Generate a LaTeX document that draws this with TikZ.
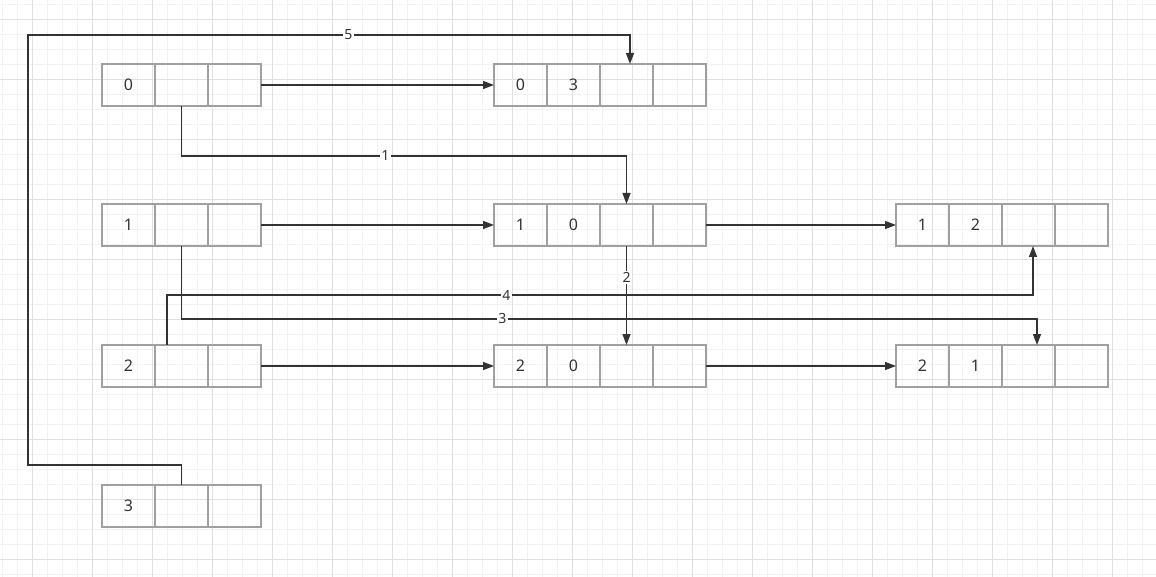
\documentclass[tikz,border=0pt]{standalone}
\usepackage{fontspec}
\setmainfont{Noto Sans}
\usetikzlibrary{positioning, arrows.meta}
\definecolor{cellgray}{HTML}{A0A0A0}
\definecolor{linegray}{HTML}{333333}
\definecolor{gridminor}{HTML}{F2F2F2}
\definecolor{gridmajor}{HTML}{E0E0E0}

\begin{document}
\begin{tikzpicture}[x=1pt, y=-1pt, ->, >={Triangle[length=11pt,width=8pt]}, color=linegray, line width=1.3pt, node distance=0pt]
\tikzstyle{cell}=[draw=cellgray, rectangle, minimum width=53pt, minimum height=42pt, inner sep=0pt, outer sep=0pt, font=\fontsize{16}{18}\selectfont, text=linegray]
\tikzstyle{lbl}=[fill=white, inner sep=1.5pt, font=\fontsize{14}{16}\selectfont, text=linegray]

\useasboundingbox (0,0) rectangle (1156,577);
\fill[white] (0,0) rectangle (1156,577);
\foreach \x in {2.3,17.3,...,1156} \draw[-, gridminor, line width=0.7pt] (\x,0) -- (\x,577);
\foreach \y in {4.3,19.3,...,577} \draw[-, gridminor, line width=0.7pt] (0,\y) -- (1156,\y);
\foreach \x in {32.3,92.3,...,1156} \draw[-, gridmajor, line width=0.7pt] (\x,0) -- (\x,577);
\foreach \y in {19.3,79.3,...,577} \draw[-, gridmajor, line width=0.7pt] (0,\y) -- (1156,\y);

% left column
\node[cell] (L0a) at (128.5,85) {0};
\node[cell] (L0b)[right=of L0a] {};
\node[cell] (L0c)[right=of L0b] {};
\node[cell] (L1a) at (128.5,225) {1};
\node[cell] (L1b)[right=of L1a] {};
\node[cell] (L1c)[right=of L1b] {};
\node[cell] (L2a) at (128.5,366) {2};
\node[cell] (L2b)[right=of L2a] {};
\node[cell] (L2c)[right=of L2b] {};
\node[cell] (L3a) at (128.5,506) {3};
\node[cell] (L3b)[right=of L3a] {};
\node[cell] (L3c)[right=of L3b] {};

% middle column
\node[cell] (M0a) at (520.5,85) {0};
\node[cell] (M0b)[right=of M0a] {3};
\node[cell] (M0c)[right=of M0b] {};
\node[cell] (M0d)[right=of M0c] {};
\node[cell] (M1a) at (520.5,225) {1};
\node[cell] (M1b)[right=of M1a] {0};
\node[cell] (M1c)[right=of M1b] {};
\node[cell] (M1d)[right=of M1c] {};
\node[cell] (M2a) at (520.5,366) {2};
\node[cell] (M2b)[right=of M2a] {0};
\node[cell] (M2c)[right=of M2b] {};
\node[cell] (M2d)[right=of M2c] {};

% right column
\node[cell] (R1a) at (922.5,225) {1};
\node[cell] (R1b)[right=of R1a] {2};
\node[cell] (R1c)[right=of R1b] {};
\node[cell] (R1d)[right=of R1c] {};
\node[cell] (R2a) at (922.5,366) {2};
\node[cell] (R2b)[right=of R2a] {1};
\node[cell] (R2c)[right=of R2b] {};
\node[cell] (R2d)[right=of R2c] {};

\coordinate (c5a) at (28,465);
\coordinate (c5b) at (28,35);

\path
(L0c.east) edge (M0a.west)
(L1c.east) edge (M1a.west)
(L2c.east) edge (M2a.west)
(M1d.east) edge (R1a.west)
(M2d.east) edge (R2a.west);

\draw (L0b.south) -- ++(0,50) -| node[lbl, pos=0.229]{1} (M1c.north);
\draw (M1c.south) -- node[lbl, pos=0.32]{2} (M2c.north);
\draw (L1b.south) -- ++(0,73) -| node[lbl, pos=0.1875]{3} ([xshift=8.5pt]R2c.north);
\draw ([xshift=-14.5pt]L2b.north) -- ++(0,-50) -| node[lbl, pos=0.196]{4} ([xshift=4.5pt]R1c.south);
\draw (L3b.north) |- (c5a) -- (c5b) -| node[lbl, pos=0.266]{5} ([xshift=3.5pt]M0c.north);

\end{tikzpicture}
\end{document}
